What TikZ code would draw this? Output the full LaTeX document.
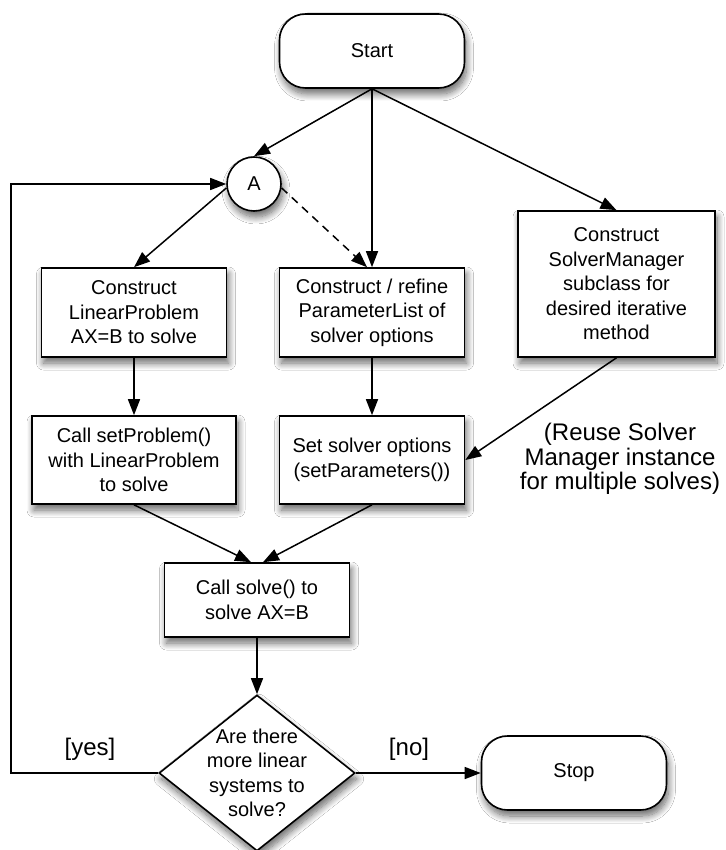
\documentclass[tikz,border=0pt]{standalone}
\usepackage{fontspec}
\setmainfont{Liberation Sans}
\usetikzlibrary{arrows.meta,shapes.geometric,shadows.blur}
\begin{document}
\begin{tikzpicture}[x=1pt,y=-1pt,
  every node/.style={font=\fontsize{20}{24.5}\selectfont, align=center},
  shad/.style={blur shadow={shadow xshift=2pt, shadow yshift=-6pt, shadow blur radius=7pt, shadow opacity=60, shadow blur steps=12}},
  proc/.style={draw, line width=1.6pt, fill=white, rectangle, minimum width=185pt, minimum height=89pt, inner sep=0pt, shad},
  term/.style={proc, rounded corners=26pt, minimum height=74pt},
  arr/.style={line width=1.5pt, -{Triangle[length=16pt,width=12pt]}},
  lab/.style={font=\fontsize{24}{24.5}\selectfont}
]
\useasboundingbox[fill=white] (0,0) rectangle (725,850);

\node[term] (start) at (372,51) {Start};
\node[circle, draw, line width=1.6pt, fill=white, minimum size=54pt, inner sep=0pt, shad] (A) at (254,184) {A};
\node[proc] (b1) at (134,312.5) {Construct\\LinearProblem\\AX=B to solve};
\node[proc] (b2) at (372,312.5) {Construct / refine\\ParameterList of\\solver options};
\node[proc, minimum width=197pt, minimum height=146pt] (b3) at (616.5,284) {Construct\\SolverManager\\subclass for\\desired iterative\\method};
\node[proc, minimum width=204pt, minimum height=88pt] (b4) at (134,460) {Call setProblem()\\with LinearProblem\\to solve};
\node[proc, minimum height=88pt] (b5) at (372,460) {Set solver options\\(setParameters())};
\node[proc, minimum height=74pt] (b6) at (257,600) {Call solve() to\\solve AX=B};
\node[diamond, draw, line width=1.6pt, fill=white, minimum width=196pt, minimum height=156pt, inner sep=0pt, shad] (d) at (257,773) {};
\node (dtext) at (d.center) {Are there\\more linear\\systems to\\solve?};
\node[term] (stop) at (574,773) {Stop};

\node[lab] (reuse) at (620,459) {(Reuse Solver\\Manager instance\\for multiple solves)};
\node[lab] (yes) at (90,749) {[yes]};
\node[lab] (no) at (409,749) {[no]};

\coordinate (loopB) at (11,773);

\draw[arr] (start.south) -- (A.north);
\draw[arr] (start.south) -- (b2.north);
\draw[arr] (start.south) -- (b3.north);
\draw[arr] (A.188) -- (b1.north);
\draw[arr, dash pattern=on 8pt off 6pt] (A.-8) -- ([xshift=-5pt]b2.north);
\draw[arr] (b1) -- (b4);
\draw[arr] (b2) -- (b5);
\draw[arr] (b3.south) -- (b5.east);
\draw[arr] (b4.south) -- ([xshift=-6pt]b6.north);
\draw[arr] (b5.south) -- ([xshift=6pt]b6.north);
\draw[arr] (b6) -- (d);
\draw[arr] (d.east) -- (stop.west);
\draw[arr] (d.west) -- (loopB) |- (A.west);
\end{tikzpicture}
\end{document}
